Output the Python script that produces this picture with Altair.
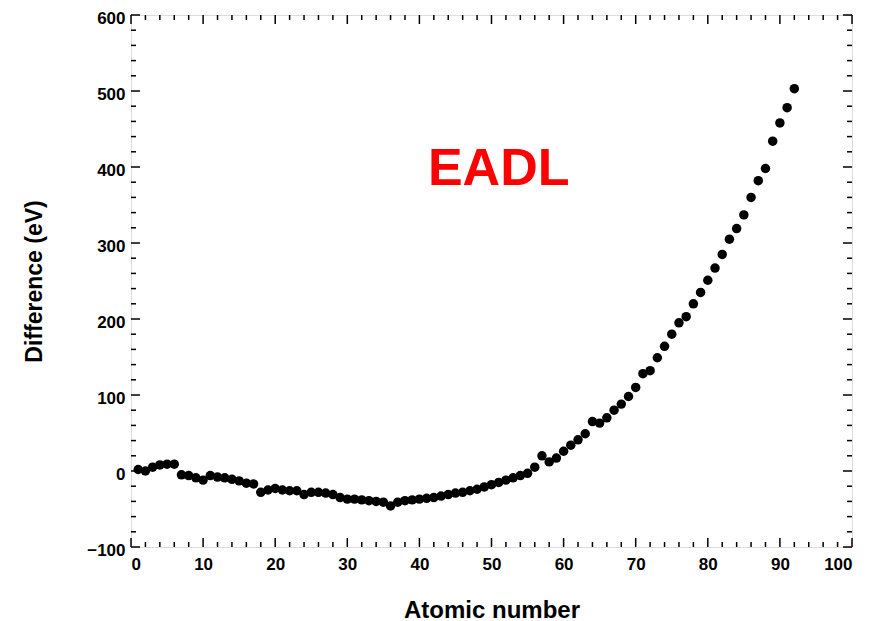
import altair as alt
import pandas as pd

atomic_number = list(range(1, 93))
difference = [
    2, 0, 5, 8, 9, 9, -5, -6, -9, -12,
    -6, -8, -9, -11, -13, -16, -17, -28, -25, -23,
    -25, -26, -26, -31, -28, -28, -29, -31, -35, -37,
    -37, -38, -39, -40, -41, -46, -41, -39, -38, -37,
    -36, -35, -33, -31, -29, -28, -26, -24, -21, -18,
    -15, -12, -9, -6, -3, 5, 20, 12, 17, 26,
    34, 41, 49, 65, 63, 70, 80, 88, 98, 110,
    128, 132, 149, 164, 180, 195, 203, 220, 235, 251,
    267, 285, 305, 319, 337, 360, 382, 398, 434, 458,
    478, 503,
]
x_labels = [0, 10, 20, 30, 40, 50, 60, 70, 80, 90, 100]
x_minor = [v for v in range(0, 101, 2) if v % 10 != 0]
y_labels = [-100, 0, 100, 200, 300, 400, 500, 600]
y_minor = [v for v in range(-100, 601, 20) if v % 100 != 0]
annotation_text = ["EADL"]
annotation_x = [51]
annotation_y = [397]

W, H = 721, 532
FONT = "Liberation Sans, Arial, sans-serif"
MAJOR, MINOR = 9, 5

df = pd.DataFrame({"Z": atomic_number, "diff": difference})
ann = pd.DataFrame({"label": annotation_text, "ax": annotation_x, "ay": annotation_y})

xscale = alt.Scale(domain=[0, 100], nice=False, zero=False)
yscale = alt.Scale(domain=[-100, 600], nice=False, zero=False)

points = alt.Chart(df).mark_circle(size=90, color="black", opacity=1).encode(
    x=alt.X("Z:Q", scale=xscale,
            axis=alt.Axis(orient="bottom", values=x_labels, ticks=False, tickSize=0,
                          domain=False, grid=False, labelPadding=9,
                          labelFont=FONT, labelFontSize=17, labelFontWeight="bold",
                          labelColor="black", title="Atomic number",
                          titleFont=FONT, titleFontSize=24, titleFontWeight="bold",
                          titleColor="black", titlePadding=26)),
    y=alt.Y("diff:Q", scale=yscale,
            axis=alt.Axis(orient="left", values=y_labels, ticks=False, tickSize=0,
                          domain=False, grid=False, labelPadding=6, labelOffset=3,
                          labelFont=FONT, labelFontSize=17, labelFontWeight="bold",
                          labelColor="black", title="Difference (eV)",
                          titleFont=FONT, titleFontSize=23, titleFontWeight="bold",
                          titleColor="black", titlePadding=40)),
)


def xticks(values, length, top):
    d = pd.DataFrame({"t": values})
    if top:
        y1, y2 = alt.value(0), alt.value(length)
    else:
        y1, y2 = alt.value(H), alt.value(H - length)
    return alt.Chart(d).mark_rule(color="black", strokeWidth=1.5).encode(
        x=alt.X("t:Q", scale=xscale), y=y1, y2=y2)


def yticks(values, length, right):
    d = pd.DataFrame({"t": values})
    if right:
        x1, x2 = alt.value(W), alt.value(W - length)
    else:
        x1, x2 = alt.value(0), alt.value(length)
    return alt.Chart(d).mark_rule(color="black", strokeWidth=1.5).encode(
        y=alt.Y("t:Q", scale=yscale), x=x1, x2=x2)


tick_layers = [
    xticks(x_labels, MAJOR, False), xticks(x_minor, MINOR, False),
    xticks(x_labels, MAJOR, True), xticks(x_minor, MINOR, True),
    yticks(y_labels, MAJOR, False), yticks(y_minor, MINOR, False),
    yticks(y_labels, MAJOR, True), yticks(y_minor, MINOR, True),
]

label = alt.Chart(ann).mark_text(
    color="#ff0000", font=FONT, fontSize=52, fontWeight="bold",
    align="center", baseline="middle"
).encode(
    x=alt.X("ax:Q", scale=xscale),
    y=alt.Y("ay:Q", scale=yscale),
    text="label:N",
)

chart = alt.layer(points, *tick_layers, label).properties(
    width=W, height=H,
    autosize=alt.AutoSizeParams(type="none"),
    padding={"left": 123, "top": 7, "right": 10, "bottom": 74},
).configure_view(
    stroke="black", strokeWidth=1.5
).configure(background="white")

chart.save("out.html", embed_options={"renderer": "svg", "actions": False})
